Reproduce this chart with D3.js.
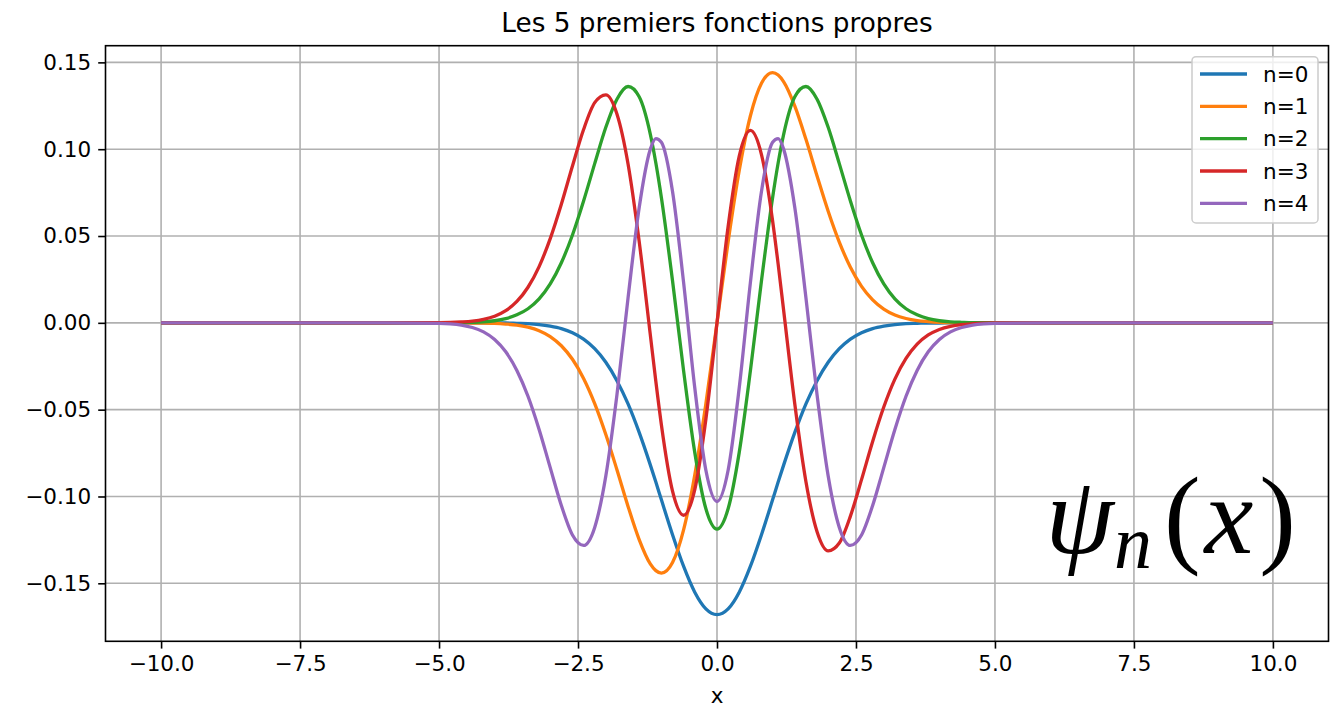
<!DOCTYPE html>
<html><head><meta charset="utf-8">
<script src="https://cdn.jsdelivr.net/npm/d3@7"></script>
<style>
html,body{margin:0;padding:0;background:#fff;}
</style></head>
<body><svg id="c" width="1334" height="707"></svg>
<script>
const xs = [-10,-8,-6,-5,-4.8,-4.6,-4.4,-4.2,-4,-3.8,-3.6,-3.4,-3.2,-3,-2.8,-2.6,-2.4,-2.2,-2,-1.8,-1.6,-1.4,-1.2,-1.1,-1,-0.8,-0.6,-0.4,-0.2,0,0.2,0.4,0.6,0.8,1,1.1,1.2,1.4,1.6,1.8,2,2.2,2.4,2.6,2.8,3,3.2,3.4,3.6,3.8,4,4.2,4.4,4.6,4.8,5,6,8,10];
const psi0 = [0,0,0,0,0,0,0,0,-0.0001,-0.0001,-0.0003,-0.0005,-0.0010,-0.0019,-0.0033,-0.0057,-0.0094,-0.0149,-0.0227,-0.0333,-0.0467,-0.0631,-0.0818,-0.0917,-0.1019,-0.1220,-0.1403,-0.1551,-0.1647,
  -0.1680,
  -0.1647,-0.1551,-0.1403,-0.1220,-0.1019,-0.0917,-0.0818,-0.0631,-0.0467,-0.0333,-0.0227,-0.0149,-0.0094,-0.0057,-0.0033,-0.0019,-0.0010,-0.0005,-0.0003,-0.0001,-0.0001,0,0,0,0,0,0,0,0];
const psi1 = [0,0,0,0,0,0,-0.0001,-0.0001,-0.0003,-0.0007,-0.0013,-0.0025,-0.0045,-0.0079,-0.0132,-0.0210,-0.0320,-0.0465,-0.0643,-0.0846,-0.1057,-0.1248,-0.1388,-0.1427,-0.1441,-0.1380,-0.1191,-0.0877,-0.0466,
  0,
  0.0466,0.0877,0.1191,0.1380,0.1441,0.1427,0.1388,0.1248,0.1057,0.0846,0.0643,0.0465,0.0320,0.0210,0.0132,0.0079,0.0045,0.0025,0.0013,0.0007,0.0003,0.0001,0.0001,0,0,0,0,0,0];
const psi2 = [0,0,0,0,0.0001,0.0001,0.0003,0.0006,0.0012,0.0024,0.0046,0.0081,0.0138,0.0224,0.0346,0.0506,0.0702,0.0917,0.1126,0.1288,0.1361,0.1302,0.1087,0.0921,0.0721,0.0242,-0.0278,-0.0746,-0.1071,
  -0.1188,
  -0.1071,-0.0746,-0.0278,0.0242,0.0721,0.0921,0.1087,0.1302,0.1361,0.1288,0.1126,0.0917,0.0702,0.0506,0.0346,0.0224,0.0138,0.0081,0.0046,0.0024,0.0012,0.0006,0.0003,0.0001,0.0001,0,0,0,0];
const psi3 = [0,0,0,0.0001,0.0002,0.0005,0.0010,0.0020,0.0038,0.0070,0.0123,0.0205,0.0324,0.0485,0.0683,0.0903,0.1113,0.1268,0.1313,0.1203,0.0915,0.0469,-0.0068,-0.0338,-0.0588,-0.0969,-0.1108,-0.0960,-0.0555,
  0,
  0.0555,0.0960,0.1108,0.0969,0.0588,0.0338,0.0068,-0.0469,-0.0915,-0.1203,-0.1313,-0.1268,-0.1113,-0.0903,-0.0683,-0.0485,-0.0324,-0.0205,-0.0123,-0.0070,-0.0038,-0.0020,-0.0010,-0.0005,-0.0002,-0.0001,0,0,0];
const psi4 = [0,0,0,-0.0003,-0.0006,-0.0013,-0.0027,-0.0052,-0.0096,-0.0167,-0.0274,-0.0423,-0.0614,-0.0834,-0.1052,-0.1222,-0.1282,-0.1178,-0.0882,-0.0415,0.0144,0.0663,0.0999,0.1061,0.1040,0.0757,0.0230,-0.0374,-0.0849,
  -0.1029,
  -0.0849,-0.0374,0.0230,0.0757,0.1040,0.1061,0.0999,0.0663,0.0144,-0.0415,-0.0882,-0.1178,-0.1282,-0.1222,-0.1052,-0.0834,-0.0614,-0.0423,-0.0274,-0.0167,-0.0096,-0.0052,-0.0027,-0.0013,-0.0006,-0.0003,0,0,0];
const seriesNames = ["n=0","n=1","n=2","n=3","n=4"];
const seriesValues = [psi0, psi1, psi2, psi3, psi4];
const colors = ["#1f77b4","#ff7f0e","#2ca02c","#d62728","#9467bd"];
const xTicks = [-10,-7.5,-5,-2.5,0,2.5,5,7.5,10];
const xTickLabels = ["\u221210.0","\u22127.5","\u22125.0","\u22122.5","0.0","2.5","5.0","7.5","10.0"];
const yTicks = [-0.15,-0.10,-0.05,0,0.05,0.10,0.15];
const yTickLabels = ["\u22120.15","\u22120.10","\u22120.05","0.00","0.05","0.10","0.15"];
const titleText = "Les 5 premiers fonctions propres";
const xLabelText = "x";

const L = 105.5, R = 1328.5, T = 45.7, B = 641.3;
const x = d3.scaleLinear().domain([-11, 11]).range([L, R]);
const y = d3.scaleLinear().domain([-0.1834, 0.1596]).range([B, T]);
const svg = d3.select("#c");
const tickFont = 21.5;
const sans = "'DejaVu Sans', sans-serif";

svg.append("defs").append("clipPath").attr("id","clip")
  .append("rect").attr("x",L).attr("y",T).attr("width",R-L).attr("height",B-T);

// grid
const grid = svg.append("g");
grid.selectAll("line.vx").data(xTicks).join("line")
  .attr("x1",d=>x(d)).attr("x2",d=>x(d)).attr("y1",T).attr("y2",B)
  .attr("stroke","#b0b0b0").attr("stroke-width",1.6);
grid.selectAll("line.hy").data(yTicks).join("line")
  .attr("y1",d=>y(d)).attr("y2",d=>y(d)).attr("x1",L).attr("x2",R)
  .attr("stroke","#b0b0b0").attr("stroke-width",1.6);

// lines
const line = d3.line().x(d=>x(d[0])).y(d=>y(d[1])).curve(d3.curveMonotoneX);
const lines = svg.append("g").attr("clip-path","url(#clip)");
seriesValues.forEach((vals,i)=>{
  lines.append("path").datum(xs.map((xv,j)=>[xv, vals[j]]))
    .attr("d",line).attr("fill","none").attr("stroke",colors[i])
    .attr("stroke-width",3.3).attr("stroke-linejoin","round").attr("stroke-linecap","butt");
});

// axes
const xAxis = d3.axisBottom(x).tickValues(xTicks).tickFormat((d,i)=>xTickLabels[i]).tickSize(7.3).tickPadding(7);
const yAxis = d3.axisLeft(y).tickValues(yTicks).tickFormat((d,i)=>yTickLabels[i]).tickSize(7.3).tickPadding(7);
const gx = svg.append("g").attr("transform",`translate(0,${B})`).call(xAxis);
const gy = svg.append("g").attr("transform",`translate(${L},0)`).call(yAxis);
[gx,gy].forEach(g=>{
  g.select(".domain").remove();
  g.selectAll(".tick line").attr("stroke","#000").attr("stroke-width",1.6);
  g.selectAll(".tick text").style("font-family",sans).attr("font-size",tickFont).attr("fill","#000");
});
gx.selectAll(".tick text").attr("dy","0.71em");
// spines
svg.append("rect").attr("x",L).attr("y",T).attr("width",R-L).attr("height",B-T)
  .attr("fill","none").attr("stroke","#000").attr("stroke-width",1.6);

// title and label
svg.append("text").attr("x",(L+R)/2).attr("y",32).attr("text-anchor","middle").style("font-family",sans)
  .attr("font-size",26.3).attr("fill","#000").text(titleText);
svg.append("text").attr("x",(L+R)/2).attr("y",702.5).attr("text-anchor","middle").style("font-family",sans)
  .attr("font-size",tickFont).attr("fill","#000").text(xLabelText);

// legend
const lg = svg.append("g");
lg.append("rect").attr("x",1192).attr("y",56.7).attr("width",126).attr("height",166.3)
  .attr("rx",4).attr("fill","#fff").attr("fill-opacity",0.8).attr("stroke","#cccccc").attr("stroke-width",1.5);
const rowY = d3.scaleLinear().domain([0,4]).range([74,203.3]);
seriesNames.forEach((nm,i)=>{
  lg.append("line").attr("x1",1200).attr("x2",1247).attr("y1",rowY(i)).attr("y2",rowY(i))
    .attr("stroke",colors[i]).attr("stroke-width",3.3);
  lg.append("text").attr("x",1263).attr("y",rowY(i)+7.8).style("font-family",sans)
    .attr("font-size",tickFont).attr("fill","#000").text(nm);
});

// math annotation
const m = svg.append("text").attr("x",1296).attr("y",553).attr("text-anchor","end")
  .style("font-family","'Liberation Serif', 'DejaVu Serif', serif").attr("font-size",110).attr("fill","#000");
m.append("tspan").style("font-style","italic").text("\u03c8");
m.append("tspan").style("font-style","italic").attr("font-size",76).attr("dy",15).text("n");
m.append("tspan").attr("dy",-15).attr("dx",12).text("(");
m.append("tspan").style("font-style","italic").attr("dx",4).text("x");
m.append("tspan").attr("dx",6).text(")");
</script></body></html>
